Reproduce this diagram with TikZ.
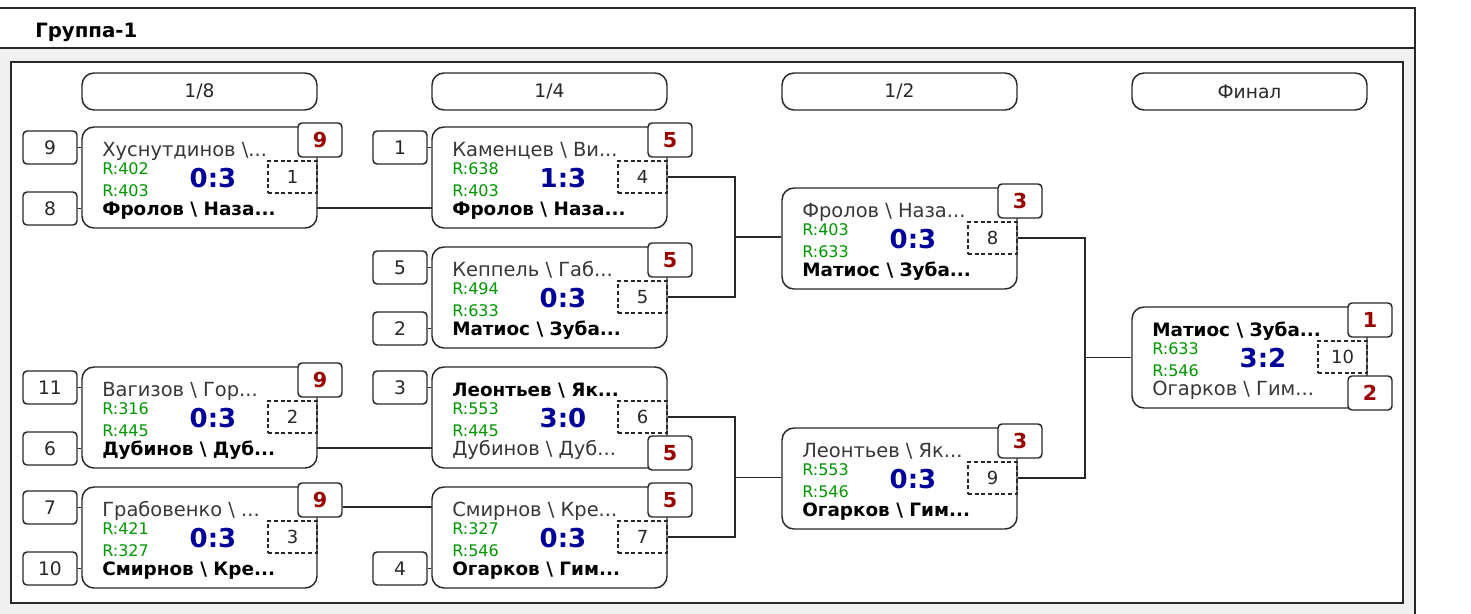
\documentclass[tikz,border=0pt]{standalone}
\usepackage{fontspec}
\setmainfont{DejaVu Sans}
\definecolor{mred}{RGB}{153,0,0}
\definecolor{mblue}{RGB}{0,0,153}
\definecolor{mgreen}{RGB}{0,150,0}
\definecolor{mgray}{RGB}{55,55,55}
\definecolor{lc}{RGB}{40,40,40}
\definecolor{bgc}{RGB}{240,240,240}
\tikzset{
 mbox/.style={draw=lc, line width=1.1pt, rounded corners=9pt, fill=white, minimum width=176.25pt, minimum height=75.75pt, inner sep=0pt},
 dbox/.style={draw=lc, dash pattern=on 3pt off 2pt, line width=0.9pt, minimum width=36.75pt, minimum height=24pt, inner sep=0pt, font=\fontsize{13.5}{15}\selectfont, text=lc},
 rbox/.style={draw=lc, fill=white, line width=1.1pt, rounded corners=3pt, minimum width=33pt, minimum height=25.5pt, inner sep=0pt, font=\fontsize{15.5}{17}\selectfont\bfseries, text=mred},
 seedbox/.style={draw=lc, fill=white, line width=1.1pt, rounded corners=3pt, minimum width=40.5pt, minimum height=24.75pt, inner sep=0pt, font=\fontsize{14}{16}\selectfont, text=lc},
 pill/.style={draw=lc, line width=1.1pt, rounded corners=9pt, minimum width=176.25pt, minimum height=27.75pt, inner sep=0pt, font=\fontsize{14}{16}\selectfont, text=lc},
 win/.style={font=\fontsize{13.8}{15}\selectfont\bfseries, text=black, anchor=base west, inner sep=0pt},
 lose/.style={font=\fontsize{14.6}{16}\selectfont, text=mgray, anchor=base west, inner sep=0pt},
 rat/.style={font=\fontsize{12}{13}\selectfont, text=mgreen, anchor=base west, inner sep=0pt},
 score/.style={font=\fontsize{19.5}{22}\selectfont\bfseries, text=mblue, inner sep=0pt},
 conn/.style={draw=lc, line width=1.1pt},
 frame/.style={draw=lc, line width=1.5pt},
}
\newcommand{\mpos}[2]{\def\ML{#1}\def\MT{#2}}
% id, top style, bottom style, top name, bottom name, R1, R2, score, match no
\newcommand{\matchbox}[9]{%
 \node[mbox] (#1) at (\ML+117.5,\MT+50.5) {};
 \node[#2] (#1a) at (\ML+20,\MT+29) {#4};
 \node[rat] (#1ra) at (\ML+20,\MT+47) {R:#6};
 \node[rat] (#1rb) at (\ML+20,\MT+69) {R:#7};
 \node[#3] (#1b) at (\ML+20,\MT+88) {#5};
 \node[score] (#1s) at (\ML+131,\MT+51) {#8};
 \node[dbox] (#1d) at (\ML+210.5,\MT+50) {#9};
 \coordinate (#1it) at (\ML,\MT+20);
 \coordinate (#1ib) at (\ML,\MT+81);
 \coordinate (#1ob) at (\ML+235,\MT+81);
}
\newcommand{\redtop}[2]{\node[rbox] (#1w) at (\ML+238,\MT+13) {#2};}
\newcommand{\redbot}[2]{\node[rbox] (#1l) at (\ML+238,\MT+86) {#2};}
\newcommand{\seedtop}[2]{\node[seedbox] (#1st) at (\ML-32,\MT+20.5) {#2};
 \draw[conn] (#1st.east) -- (#1st.east -| #1.west);}
\newcommand{\seedbot}[2]{\node[seedbox] (#1sb) at (\ML-32,\MT+81.5) {#2};
 \draw[conn] (#1sb.east) -- (#1sb.east -| #1.west);}
\newcommand{\bs}{\textbackslash}
\begin{document}
\begin{tikzpicture}[x=0.75pt,y=-0.75pt]
\useasboundingbox (0,0) rectangle (1471,614);
\fill[white] (0,0) rectangle (1471,614);
% frames
\filldraw[frame, fill=bgc] (-4,8) rectangle (1415,640);
\filldraw[frame, fill=white] (-4,8) rectangle (1415,48);
\node[anchor=base west, inner sep=0pt, font=\fontsize{14.8}{16}\selectfont\bfseries] (title) at (35,37) {Группа-1};
\filldraw[frame, fill=white] (11,62) rectangle (1403,603);
% round labels
\node[pill] (p1) at (199.5,91.5) {1/8};
\node[pill] (p2) at (549.5,91.5) {1/4};
\node[pill] (p3) at (899.5,91.5) {1/2};
\node[pill] (p4) at (1249.5,91.5) {Финал};
% 1/8
\mpos{82}{127}
\matchbox{e1}{lose}{win}{Хуснутдинов \bs...}{Фролов \bs{} Наза...}{402}{403}{0:3}{1}
\redtop{e1}{9}\seedtop{e1}{9}\seedbot{e1}{8}
\mpos{82}{367}
\matchbox{e2}{lose}{win}{Вагизов \bs{} Гор...}{Дубинов \bs{} Дуб...}{316}{445}{0:3}{2}
\redtop{e2}{9}\seedtop{e2}{11}\seedbot{e2}{6}
\mpos{82}{487}
\matchbox{e3}{lose}{win}{Грабовенко \bs{} ...}{Смирнов \bs{} Кре...}{421}{327}{0:3}{3}
\redtop{e3}{9}\seedtop{e3}{7}\seedbot{e3}{10}
% 1/4
\mpos{432}{127}
\matchbox{qa}{lose}{win}{Каменцев \bs{} Ви...}{Фролов \bs{} Наза...}{638}{403}{1:3}{4}
\redtop{qa}{5}\seedtop{qa}{1}
\mpos{432}{247}
\matchbox{qb}{lose}{win}{Кеппель \bs{} Габ...}{Матиос \bs{} Зуба...}{494}{633}{0:3}{5}
\redtop{qb}{5}\seedtop{qb}{5}\seedbot{qb}{2}
\mpos{432}{367}
\matchbox{qc}{win}{lose}{Леонтьев \bs{} Як...}{Дубинов \bs{} Дуб...}{553}{445}{3:0}{6}
\redbot{qc}{5}\seedtop{qc}{3}
\mpos{432}{487}
\matchbox{qd}{lose}{win}{Смирнов \bs{} Кре...}{Огарков \bs{} Гим...}{327}{546}{0:3}{7}
\redtop{qd}{5}\seedbot{qd}{4}
% 1/2
\mpos{782}{188}
\matchbox{s1}{lose}{win}{Фролов \bs{} Наза...}{Матиос \bs{} Зуба...}{403}{633}{0:3}{8}
\redtop{s1}{3}
\mpos{782}{428}
\matchbox{s2}{lose}{win}{Леонтьев \bs{} Як...}{Огарков \bs{} Гим...}{553}{546}{0:3}{9}
\redtop{s2}{3}
% final
\mpos{1132}{307}
\matchbox{f}{win}{lose}{Матиос \bs{} Зуба...}{Огарков \bs{} Гим...}{633}{546}{3:2}{10}
\redtop{f}{1}\redbot{f}{2}
% connectors
\draw[conn] (e1ob) -- (qaib);
\draw[conn] (e2ob) -- (qcib);
\draw[conn] (e3w.east |- qdit) -- (qdit);
\coordinate (j1) at (735,237);
\coordinate (j2) at (735,477.5);
\coordinate (j3) at (1085,357.5);
\draw[conn] (qad.east) -| (j1) |- (qbd.east);
\draw[conn] (j1) -- (j1 -| s1.west);
\draw[conn] (qcd.east) -| (j2) |- (qdd.east);
\draw[conn] (j2) -- (j2 -| s2.west);
\draw[conn] (s1d.east) -| (j3) |- (s2d.east);
\draw[conn] (j3) -- (j3 -| f.west);
\end{tikzpicture}
\end{document}
